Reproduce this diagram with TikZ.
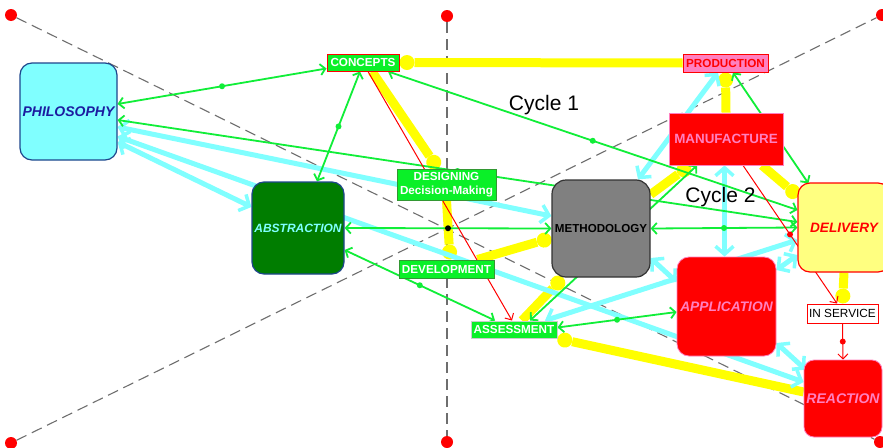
\documentclass[tikz,border=0pt]{standalone}
\usepackage{fontspec}
\setmainfont{Liberation Sans}
\usetikzlibrary{arrows.meta,calc}
\pgfdeclarelayer{back}
\pgfsetlayers{back,main}

\definecolor{lgreen}{RGB}{16,238,56}
\definecolor{boxgreen}{RGB}{10,240,40}
\definecolor{cyanl}{RGB}{128,255,255}
\definecolor{yell}{RGB}{255,255,0}
\definecolor{pinkl}{RGB}{255,128,192}
\definecolor{navyt}{RGB}{28,28,160}
\definecolor{navyb}{RGB}{30,70,140}
\definecolor{dkgreen}{RGB}{0,125,0}
\definecolor{greyM}{RGB}{128,128,128}
\definecolor{lyellow}{RGB}{255,255,128}
\definecolor{guidegrey}{RGB}{110,110,110}

\tikzset{
  bigbox/.style={rectangle, rounded corners=12pt, line width=1.2pt, inner sep=0pt,
    align=center, font=\bfseries\itshape\fontsize{14}{16}\selectfont},
  smallbox/.style={rectangle, inner sep=0pt, line width=1pt, align=center,
    fill=boxgreen, text=white, font=\bfseries\fontsize{11.7}{13.5}\selectfont},
  linkg/.style={draw=lgreen, line width=1.8pt, <->, >={Straight Barb[length=5pt,width=11pt]}},
  linkc/.style={draw=cyanl, line width=5pt, <->, >={Straight Barb[length=8pt,width=18pt,line width=3.5pt]}},
  linkr/.style={draw=red, line width=1pt, ->, >={Straight Barb[length=5pt,width=10pt]}},
  flowy/.style={draw=yell, line width=9pt, arrows={-Circle[length=15pt,line width=0pt]}},
  gdot/.style={circle, fill=lgreen, inner sep=0pt, minimum size=6pt},
  rdot/.style={circle, fill=red, inner sep=0pt, minimum size=6pt},
  kdot/.style={circle, fill=black, inner sep=0pt, minimum size=6pt},
  corner/.style={circle, fill=red, inner sep=0pt, minimum size=12pt},
  guide/.style={draw=guidegrey, line width=1.1pt, dash pattern=on 11pt off 6pt},
  cyclelabel/.style={anchor=base, font=\fontsize{21}{24}\selectfont}
}

\begin{document}
\begin{tikzpicture}[x=1pt,y=-1pt]
\useasboundingbox (0,0) rectangle (883,447);

% corner markers of the guide lines
\node[corner] (tl) at (11,15) {};
\node[corner] (tm) at (447,16) {};
\node[corner] (tr) at (882,15) {};
\node[corner] (bl) at (11,443) {};
\node[corner] (bm) at (447,442) {};
\node[corner] (br) at (880,442) {};

% main blocks
\node[bigbox, fill=cyanl, draw=navyb, text=navyt, minimum width=97pt, minimum height=97pt]
  (phil) at (68.5,111.5) {PHILOSOPHY};
\node[bigbox, fill=dkgreen, draw=navyb, text=cyanl, minimum width=92pt, minimum height=92pt,
  font=\bfseries\itshape\fontsize{12}{14}\selectfont]
  (abst) at (298,228) {ABSTRACTION};
\node[bigbox, rounded corners=14pt, fill=greyM, draw=black!80, text=black, minimum width=98pt,
  minimum height=97pt, font=\bfseries\fontsize{11.6}{14}\selectfont]
  (meth) at (601,228.5) {METHODOLOGY};
\node[bigbox, fill=lyellow, draw=red, text=red, minimum width=92pt, minimum height=89pt,
  font=\bfseries\itshape\fontsize{13.6}{16}\selectfont]
  (deli) at (844,227.5) {DELIVERY};
\node[bigbox, fill=red, draw=pinkl, line width=0.8pt, text=pinkl, minimum width=99pt,
  minimum height=99pt, font=\bfseries\itshape\fontsize{13.8}{16}\selectfont]
  (appl) at (726.5,306.5) {APPLICATION};
\node[bigbox, rounded corners=10pt, fill=red, draw=pinkl, line width=0.8pt, text=pinkl,
  minimum width=78pt, minimum height=77pt]
  (reac) at (843,398.5) {REACTION};
\node[rectangle, inner sep=0pt, fill=red, draw=pinkl, line width=0.8pt, text=pinkl,
  minimum width=114pt, minimum height=52pt, font=\bfseries\fontsize{13.4}{16}\selectfont]
  (manu) at (726,139) {MANUFACTURE};

% labelled tags
\node[smallbox, draw=red, minimum width=72pt, minimum height=17pt] (conc) at (363,62.5) {CONCEPTS};
\node[smallbox, fill=pinkl, draw=red, text=red, minimum width=85pt, minimum height=18pt]
  (prod) at (725.5,63) {PRODUCTION};
\node[smallbox, draw=dkgreen!80, minimum width=99pt, minimum height=31pt]
  (desg) at (446.5,184.5) {DESIGNING\\Decision-Making};
\node[smallbox, draw=dkgreen!80, minimum width=95pt, minimum height=18pt]
  (dev) at (446.5,269) {DEVELOPMENT};
\node[smallbox, draw=black!20, minimum width=86pt, minimum height=17pt]
  (asmt) at (514,329.5) {ASSESSMENT};
\node[smallbox, fill=white, draw=red, text=black, minimum width=71pt, minimum height=19pt,
  font=\fontsize{11.8}{13.5}\selectfont]
  (insv) at (842.5,313.5) {IN SERVICE};

% cycle captions
\node[cyclelabel] (cyc1) at (544,110) {Cycle 1};
\node[cyclelabel] (cyc2) at (720.5,202) {Cycle 2};

\begin{pgfonlayer}{back}
  \fill[white] (0,0) rectangle (883,447);

  % dashed guides
  \draw[guide] (tl) -- (br);
  \draw[guide] (bl) -- (tr);
  \draw[guide] (tm) -- (bm);

  % yellow process flows
  \draw[flowy] (prod.west) -- (conc.east);
  \draw[flowy] ($(conc.south)+(9,0)$) -- ($(desg.north)+(-8.5,0)$);
  \draw[flowy] (desg.south) -- ($(dev.north)+(3.5,0)$);
  \draw[flowy] ($(dev.north east)+(-17,0)$) -- ($(meth.west)+(0,9.5)$);
  \draw[flowy] ($(meth.east)+(0,-34)$) -- ($(manu.south)+(-36,0)$);
  \draw[flowy] (manu.north) -- (prod.south);
  \draw[flowy] ($(manu.south)+(36,0)$) -- ($(deli.north west)+(1,14)$);
  \draw[flowy] (deli.south) -- (insv.north);
  \draw[flowy] ($(reac.west)+(0,-6.5)$) -- (asmt.south east);
  \draw[flowy] ($(asmt.north)+(8,0)$) -- ($(meth.south)+(-38,0)$);

  % cyan links
  \draw[linkc] ($(phil.east)+(0,15.5)$) -- ($(meth.west)+(0,-12.5)$);
  \draw[linkc] ($(phil.east)+(0,30.5)$) -- ($(abst.west)+(0,-21)$);
  \draw[linkc] ($(phil.east)+(0,25)$) -- ($(reac.west)+(0,-16.5)$);
  \draw[linkc] ($(meth.north)+(37,0)$) -- ($(prod.south)+(-7.5,0)$);
  \draw[linkc] ($(manu.south)+(-1.5,0)$) -- ($(appl.north)+(-2,0)$);
  \draw[linkc] ($(meth.east)+(0,29.5)$) -- ($(appl.west)+(0,-24.5)$);
  \draw[linkc] ($(deli.west)+(0,12.5)$) -- ($(asmt.north)+(31,0)$);
  \draw[linkc] ($(deli.west)+(0,27.5)$) -- ($(appl.east)+(0,-36.5)$);
  \draw[linkc] ($(appl.east)+(0,36.5)$) -- ($(reac.north west)+(2,10)$);

  % green links
  \draw[linkg] ($(conc.west)+(0,6)$) -- node[gdot]{} ($(phil.east)+(0,-7.5)$);
  \draw[linkg] ($(conc.south)+(-3,0)$) -- node[gdot]{} ($(abst.north)+(19,0)$);
  \draw[linkg] ($(conc.south)+(25,0)$) -- node[gdot]{} ($(deli.west)+(0,-17.5)$);
  \draw[linkg] ($(phil.east)+(0,8.5)$) -- node[gdot]{} ($(deli.west)+(0,-5.5)$);
  \draw[linkg] (abst.east) -- node[kdot]{} (meth.west);
  \draw[linkg] (meth.east) -- node[gdot]{} (deli.west);
  \draw[linkg] ($(abst.east)+(0,22)$) -- node[gdot]{} ($(asmt.north)+(-19,0)$);
  \draw[linkg] ($(asmt.east)+(0,-2)$) -- node[gdot]{} ($(appl.west)+(0,5.5)$);
  \draw[linkg] ($(manu.south)+(-29,0)$) -- node[gdot]{} ($(asmt.north)+(16,0)$);
  \draw[linkg] ($(prod.south)+(7.5,0)$) -- node[gdot]{} ($(deli.north west)+(11,1)$);

  % red links
  \draw[linkr] ($(conc.south)+(5,0)$) -- ($(asmt.north)+(-2,0)$);
  \draw[linkr] ($(manu.south)+(17,0)$) -- node[rdot]{} ($(insv.north)+(-5.5,0)$);
  \draw[linkr] (insv.south) -- node[rdot]{} (reac.north);
\end{pgfonlayer}
\end{tikzpicture}
\end{document}
